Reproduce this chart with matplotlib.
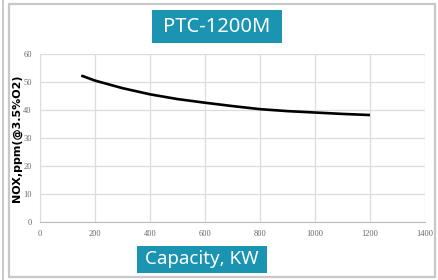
import numpy as np
import matplotlib.pyplot as plt
from matplotlib.patches import Rectangle

# values
capacity_kw = [150, 200, 300, 400, 500, 600, 700, 800, 900, 1000, 1100, 1200]
nox_ppm = [52.3, 50.5, 47.8, 45.6, 43.9, 42.6, 41.4, 40.3, 39.6, 39.1, 38.6, 38.2]
x_ticks = [0, 200, 400, 600, 800, 1000, 1200, 1400]
y_ticks = [0, 10, 20, 30, 40, 50, 60]

title = "PTC-1200M"
x_label = "Capacity, KW"
y_label = "NOX,ppm(@3.5%O2)"
teal = "#1a94b1"

W, H = 438, 280
fig = plt.figure(figsize=(W / 100, H / 100), dpi=100)


def fx(px):
    return px / W


def fy(py):
    return 1 - py / H


# outer frames
fig.add_artist(Rectangle((fx(8.5), fy(277)), fx(426), 273 / H, transform=fig.transFigure,
                         fill=False, edgecolor="#c8c8c8", linewidth=1.6))
fig.add_artist(plt.Line2D([fx(2.5), fx(2.5)], [fy(0), fy(280)], transform=fig.transFigure,
                          color="#c8c8c8", linewidth=1.4))

ax = fig.add_axes([fx(40), fy(222), fx(425 - 40), (222 - 54) / H])
ax.plot(capacity_kw, nox_ppm, color="black", linewidth=1.9, solid_capstyle="butt")
ax.set_xlim(0, 1400)
ax.set_ylim(0, 60)
ax.set_xticks(x_ticks)
ax.set_yticks(y_ticks)
ax.grid(True, color="#dcdcdc", linewidth=0.9)
ax.set_axisbelow(True)
for s in ["top", "right"]:
    ax.spines[s].set_visible(False)
ax.spines["left"].set_color("#dcdcdc")
ax.spines["bottom"].set_color("#bdbdbd")
ax.tick_params(length=0, pad=6, labelsize=6, labelcolor="#666666")
for lab in ax.get_xticklabels() + ax.get_yticklabels():
    lab.set_family("Liberation Serif")
ax.set_ylabel(y_label, fontsize=8, fontweight="bold", family="DejaVu Sans")
ax.yaxis.set_label_coords(-(40 - 22) / 385, 0.5)

# title and x label boxes
fig.add_artist(Rectangle((fx(152), fy(43)), fx(130), 33 / H, transform=fig.transFigure,
                         facecolor=teal, edgecolor="none"))
fig.text(fx(217), fy(26.5), title, ha="center", va="center", color="white",
         fontsize=14.5, family="Noto Sans")
fig.add_artist(Rectangle((fx(137), fy(273)), fx(130), 27 / H, transform=fig.transFigure,
                         facecolor=teal, edgecolor="none"))
fig.text(fx(202), fy(259.5), x_label, ha="center", va="center", color="white",
         fontsize=13.5, family="Noto Sans")

fig.savefig("out.png", dpi=100)
